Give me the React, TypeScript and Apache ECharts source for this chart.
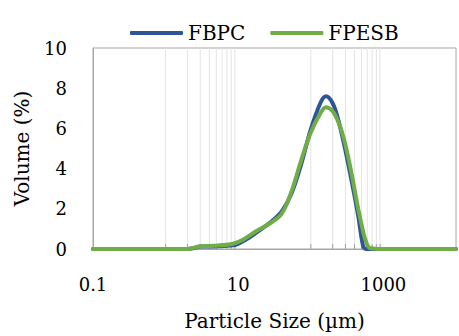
import React, { useEffect, useRef } from "react";
import * as echarts from "echarts";

// Particle size classes (µm) and volume (%)
const sizes = [0.1, 1, 2, 2.5, 3, 4.6, 8.5, 11.6, 17.4, 29, 40, 54, 73.5, 100, 137, 162, 200, 240, 290, 360, 450, 525, 575, 650, 1000, 10000];
const fbpc = [0, 0, 0, 0.05, 0.12, 0.13, 0.18, 0.38, 0.79, 1.38, 1.88, 2.75, 4.2, 5.95, 7.3, 7.6, 7.25, 6.4, 5.15, 3.5, 1.65, 0.15, 0, 0, 0, 0];
const fpesb = [0, 0, 0, 0.07, 0.14, 0.16, 0.26, 0.46, 0.87, 1.33, 1.77, 2.84, 4.4, 5.8, 6.78, 7.05, 6.85, 6.3, 5.4, 3.85, 2.0, 0.88, 0.38, 0.05, 0, 0];

// Vertical gridline positions (µm)
const gridValues = [1, 2, 3, 4, 5, 6, 7, 8, 9, 100, 200, 300, 400, 500, 600, 700, 800, 900];
const xTickLabels = ["0.1", "10", "1000"];
const yTicks = { min: 0, max: 10, interval: 2 };

const seriesNames = ["FBPC", "FPESB"];
const seriesColors = ["#2f5597", "#70ad47"];

const FONT = "DejaVu Serif";

export default function App() {
  const ref = useRef<HTMLDivElement>(null);
  useEffect(() => {
    if (!ref.current) return;
    const chart = echarts.init(ref.current, undefined, { renderer: "svg" });
    chart.setOption({
      animation: false,
      backgroundColor: "#ffffff",
      textStyle: { fontFamily: FONT },
      legend: {
        data: seriesNames,
        icon: "roundRect",
        left: 125,
        top: 18,
        itemGap: 25,
        itemWidth: 53,
        itemHeight: 4,
        textStyle: { fontFamily: FONT, fontSize: 20, color: "#000" },
      },
      grid: {
        left: 93,
        top: 48,
        right: -6.5,
        bottom: 85,
        show: true,
        borderColor: "#a6a6a6",
        borderWidth: 1,
        backgroundColor: "transparent",
      },
      xAxis: {
        type: "log",
        logBase: 10,
        min: 0.1,
        max: 10000,
        name: "Particle Size (µm)",
        nameLocation: "middle",
        nameGap: 62,
        nameTextStyle: { fontFamily: FONT, fontSize: 20, color: "#000" },
        axisLine: { lineStyle: { color: "#a6a6a6", width: 1 } },
        axisTick: { show: false },
        splitLine: { show: false },
        axisLabel: {
          fontFamily: FONT,
          fontSize: 18,
          color: "#000",
          margin: 26,
          formatter: (v: number) => {
            const s = xTickLabels.find((l) => Math.abs(Math.log10(Number(l)) - Math.log10(v)) < 1e-6);
            return s ?? "";
          },
        },
      },
      yAxis: {
        type: "value",
        min: yTicks.min,
        max: yTicks.max,
        interval: yTicks.interval,
        name: "Volume (%)",
        nameLocation: "middle",
        nameGap: 61,
        nameTextStyle: { fontFamily: FONT, fontSize: 20, color: "#000" },
        axisLine: { show: true, lineStyle: { color: "#a6a6a6", width: 1 } },
        axisTick: { show: false },
        splitLine: { show: false },
        axisLabel: { fontFamily: FONT, fontSize: 18, color: "#000", margin: 26 },
      },
      series: [
        {
          type: "custom",
          silent: true,
          z: 1,
          data: gridValues.map((v) => [v, 0]),
          encode: { x: 0, y: 1 },
          renderItem: (_params: any, api: any) => {
            const x = api.value(0);
            const b = api.coord([x, yTicks.min]);
            const t = api.coord([x, yTicks.max]);
            return {
              type: "group",
              children: [
                {
                  type: "line",
                  shape: { x1: b[0], y1: b[1], x2: t[0], y2: t[1] },
                  style: { stroke: "#e4e4e4", lineWidth: 1 },
                },
                {
                  type: "line",
                  shape: { x1: b[0], y1: b[1], x2: b[0], y2: b[1] - 5 },
                  style: { stroke: "#a0a0a0", lineWidth: 1 },
                },
              ],
            };
          },
        },
        {
          name: seriesNames[0],
          type: "line",
          data: sizes.map((s, i) => [s, fbpc[i]]),
          smooth: 0.35,
          symbol: "none",
          z: 3,
          lineStyle: { color: seriesColors[0], width: 4, cap: "round" },
          itemStyle: { color: seriesColors[0] },
        },
        {
          name: seriesNames[1],
          type: "line",
          data: sizes.map((s, i) => [s, fpesb[i]]),
          smooth: 0.35,
          symbol: "none",
          z: 4,
          lineStyle: { color: seriesColors[1], width: 4, cap: "round" },
          itemStyle: { color: seriesColors[1] },
        },
      ],
    });
    return () => chart.dispose();
  }, []);
  return (
    <div
      ref={ref}
      style={{ position: "fixed", left: 0, top: 0, width: 459, height: 336 }}
    />
  );
}
